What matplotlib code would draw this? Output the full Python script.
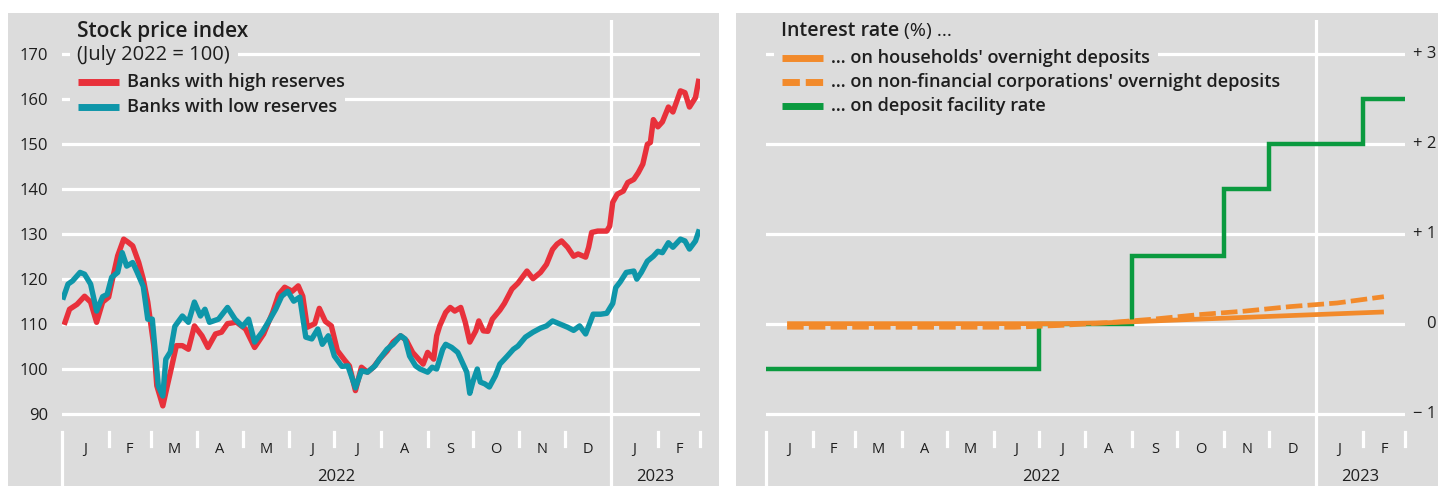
import numpy as np
import matplotlib
matplotlib.use("Agg")
import matplotlib.pyplot as plt
import matplotlib.dates as mdates
import matplotlib.transforms as mtransforms
from matplotlib.patches import Rectangle
from matplotlib.lines import Line2D

plt.rcParams['font.family'] = ['Open Sans', 'DejaVu Sans']

# ---- data: stock price index (July 2022 = 100) ----
high_dates = [
    "2022-01-03", "2022-01-06", "2022-01-11", "2022-01-16", "2022-01-20", "2022-01-24",
    "2022-01-28", "2022-02-01", "2022-02-04", "2022-02-07", "2022-02-11", "2022-02-14",
    "2022-02-17", "2022-02-21", "2022-02-24", "2022-02-27", "2022-03-03", "2022-03-05",
    "2022-03-09", "2022-03-12", "2022-03-15", "2022-03-18", "2022-03-22", "2022-03-26",
    "2022-03-30", "2022-04-04", "2022-04-08", "2022-04-13", "2022-04-17", "2022-04-21",
    "2022-04-27", "2022-05-03", "2022-05-09", "2022-05-15", "2022-05-21", "2022-05-25",
    "2022-05-29", "2022-06-03", "2022-06-07", "2022-06-10", "2022-06-13", "2022-06-18",
    "2022-06-21", "2022-06-25", "2022-06-29", "2022-07-03", "2022-07-08", "2022-07-11",
    "2022-07-15", "2022-07-19", "2022-07-23", "2022-07-27", "2022-07-31", "2022-08-05",
    "2022-08-09", "2022-08-14", "2022-08-18", "2022-08-22", "2022-08-26", "2022-08-29",
    "2022-09-01", "2022-09-05", "2022-09-07", "2022-09-09", "2022-09-13", "2022-09-16",
    "2022-09-19", "2022-09-23", "2022-09-26", "2022-09-29", "2022-10-03", "2022-10-05",
    "2022-10-08", "2022-10-11", "2022-10-14", "2022-10-19", "2022-10-22", "2022-10-27",
    "2022-10-31", "2022-11-06", "2022-11-10", "2022-11-15", "2022-11-19", "2022-11-23",
    "2022-11-26", "2022-11-29", "2022-12-03", "2022-12-07", "2022-12-10", "2022-12-15",
    "2022-12-17", "2022-12-19", "2022-12-23", "2022-12-29", "2022-12-31", "2023-01-02",
    "2023-01-05", "2023-01-09", "2023-01-12", "2023-01-16", "2023-01-19", "2023-01-22",
    "2023-01-25", "2023-01-27", "2023-01-29", "2023-02-01", "2023-02-04", "2023-02-08",
    "2023-02-11", "2023-02-16", "2023-02-19", "2023-02-22", "2023-02-26", "2023-02-28",
]
high_vals = [
    110.3, 113.2, 114.3, 116.1, 114.8, 110.3,
    114.8, 115.9, 120.6, 125.1, 128.8, 128.1,
    127.3, 123.6, 119.9, 114.8, 105.1, 96.2,
    91.7, 96.2, 100.6, 105.1, 105.1, 104.3,
    109.5, 107.3, 104.7, 107.7, 108.1, 110.0,
    110.3, 108.8, 104.7, 107.7, 112.5, 116.5,
    118.1, 117.2, 118.4, 116.1, 109.2, 110.0,
    113.4, 110.5, 109.5, 104.0, 101.8, 100.6,
    95.1, 100.3, 99.2, 100.3, 102.1, 103.9,
    105.9, 107.3, 106.2, 103.6, 102.1, 101.0,
    103.6, 102.1, 107.3, 109.5, 112.5, 113.6,
    112.8, 113.6, 110.3, 105.9, 108.4, 110.6,
    108.4, 108.3, 111.0, 113.0, 114.5, 117.7,
    119.0, 121.7, 120.0, 121.4, 123.2, 126.5,
    127.7, 128.4, 127.0, 125.0, 125.5, 124.8,
    127.0, 130.3, 130.6, 130.6, 131.7, 137.0,
    138.8, 139.5, 141.4, 142.1, 143.6, 145.5,
    149.9, 150.3, 155.4, 153.8, 154.9, 158.2,
    157.1, 161.8, 161.4, 158.2, 160.3, 163.9,
]

low_dates = [
    "2022-01-02", "2022-01-05", "2022-01-08", "2022-01-13", "2022-01-16", "2022-01-20",
    "2022-01-24", "2022-01-28", "2022-01-31", "2022-02-03", "2022-02-07", "2022-02-10",
    "2022-02-13", "2022-02-17", "2022-02-20", "2022-02-24", "2022-02-27", "2022-03-02",
    "2022-03-04", "2022-03-06", "2022-03-09", "2022-03-11", "2022-03-14", "2022-03-17",
    "2022-03-22", "2022-03-26", "2022-03-30", "2022-04-03", "2022-04-06", "2022-04-09",
    "2022-04-15", "2022-04-21", "2022-04-26", "2022-05-01", "2022-05-05", "2022-05-09",
    "2022-05-14", "2022-05-18", "2022-05-23", "2022-05-27", "2022-05-31", "2022-06-04",
    "2022-06-08", "2022-06-12", "2022-06-16", "2022-06-20", "2022-06-23", "2022-06-27",
    "2022-07-01", "2022-07-06", "2022-07-10", "2022-07-15", "2022-07-19", "2022-07-23",
    "2022-07-28", "2022-07-31", "2022-08-05", "2022-08-09", "2022-08-14", "2022-08-17",
    "2022-08-20", "2022-08-24", "2022-08-27", "2022-09-01", "2022-09-04", "2022-09-07",
    "2022-09-11", "2022-09-13", "2022-09-17", "2022-09-21", "2022-09-24", "2022-09-27",
    "2022-09-29", "2022-10-01", "2022-10-04", "2022-10-06", "2022-10-09", "2022-10-12",
    "2022-10-16", "2022-10-19", "2022-10-24", "2022-10-28", "2022-10-31", "2022-11-05",
    "2022-11-10", "2022-11-15", "2022-11-19", "2022-11-23", "2022-11-28", "2022-12-03",
    "2022-12-07", "2022-12-11", "2022-12-15", "2022-12-18", "2022-12-20", "2022-12-25",
    "2022-12-29", "2023-01-02", "2023-01-04", "2023-01-07", "2023-01-11", "2023-01-16",
    "2023-01-18", "2023-01-21", "2023-01-25", "2023-01-29", "2023-02-01", "2023-02-04",
    "2023-02-08", "2023-02-11", "2023-02-16", "2023-02-19", "2023-02-22", "2023-02-26",
    "2023-02-28",
]
low_vals = [
    115.9, 118.8, 119.5, 121.4, 121.0, 118.8,
    112.8, 116.0, 116.5, 120.3, 121.4, 125.8,
    122.8, 123.6, 121.4, 118.3, 111.0, 111.0,
    103.6, 96.1, 93.9, 102.1, 103.7, 109.4,
    111.7, 110.3, 114.8, 111.7, 113.2, 110.3,
    111.0, 113.6, 111.0, 109.4, 111.0, 105.9,
    108.1, 110.3, 113.2, 116.1, 117.2, 115.0,
    115.9, 107.0, 106.6, 108.8, 105.4, 107.3,
    102.8, 100.5, 100.6, 95.7, 99.5, 99.2,
    100.6, 102.1, 104.3, 105.4, 107.3, 106.6,
    102.8, 100.6, 99.9, 99.2, 100.3, 99.9,
    104.3, 105.4, 104.7, 103.6, 101.4, 99.2,
    94.5, 97.0, 99.9, 97.0, 96.6, 95.9,
    98.4, 101.0, 102.8, 104.3, 105.0, 107.0,
    108.1, 109.0, 109.5, 110.6, 109.9, 109.2,
    108.5, 109.5, 107.7, 110.3, 112.1, 112.1,
    112.3, 114.5, 118.0, 119.3, 121.4, 121.7,
    119.9, 121.4, 123.9, 125.0, 126.1, 125.8,
    128.0, 127.0, 128.8, 128.4, 126.6, 128.4,
    130.4,
]

# ---- data: interest rates (%) ----
rate_months = ["2022-01", "2022-02", "2022-03", "2022-04", "2022-05", "2022-06", "2022-07",
               "2022-08", "2022-09", "2022-10", "2022-11", "2022-12", "2023-01", "2023-02"]
households_rate = [0.00, 0.00, 0.00, 0.00, 0.00, 0.00, 0.00, 0.01, 0.03, 0.05, 0.07, 0.09, 0.11, 0.13]
nfc_rate = [-0.04, -0.04, -0.04, -0.04, -0.04, -0.04, -0.02, 0.01, 0.05, 0.10, 0.14, 0.19, 0.23, 0.30]
dfr_rate = [-0.50, -0.50, -0.50, -0.50, -0.50, -0.50, 0.00, 0.00, 0.75, 0.75, 1.50, 2.00, 2.00, 2.50]

month_letters = ["J", "F", "M", "A", "M", "J", "J", "A", "S", "O", "N", "D", "J", "F"]
years = ["2022", "2023"]

GRAY = "#DCDCDC"
RED = "#E8313B"
TEAL = "#0E96A9"
ORANGE = "#F28A2B"
GREEN = "#0A9A3F"
TXT = "#1E1E1E"

W, H = 1438, 486
fig = plt.figure(figsize=(W / 100, H / 100), dpi=100)


def fx(px):
    return px / W


def fy(py):
    return 1 - py / H


def ay(py):
    # pixel row -> axes fraction (axes span rows 20..486)
    return (486 - py) / 466


# grey panels
for x0, x1 in [(8, 719), (736, 1438)]:
    fig.add_artist(Rectangle((fx(x0), 0), fx(x1) - fx(x0), fy(13), transform=fig.transFigure,
                             facecolor=GRAY, edgecolor="none", zorder=-10))

ax1 = fig.add_axes([fx(62), 0, fx(700) - fx(62), 466 / H])
ax2 = fig.add_axes([fx(766), 0, fx(1405) - fx(766), 466 / H])

x_start = mdates.date2num(np.datetime64("2022-01-01"))
x_end = mdates.date2num(np.datetime64("2023-03-01"))
x_year = mdates.date2num(np.datetime64("2023-01-01"))

for ax in (ax1, ax2):
    ax.set_facecolor("none")
    for s in ax.spines.values():
        s.set_visible(False)
    ax.set_xlim(x_start, x_end)
    ax.set_xticks([])
    ax.grid(axis="y", color="white", lw=2.3)
    ax.set_axisbelow(True)
    ax.tick_params(axis="y", length=0)
    ax.axvline(x_year, color="white", lw=2.3, zorder=1)

    blend = mtransforms.blended_transform_factory(ax.transData, ax.transAxes)
    starts = np.arange(np.datetime64("2022-01"), np.datetime64("2023-04"), dtype="datetime64[M]")
    starts = mdates.date2num(starts.astype("datetime64[D]"))
    for i, s in enumerate(starts):
        if i == 0:
            ax.plot([s, s], [0, ay(432)], transform=blend, color="white", lw=2.3, clip_on=False)
        elif s != x_year:
            ax.plot([s, s], [ay(446), ay(432)], transform=blend, color="white", lw=2.3, clip_on=False)
    mids = (starts[:-1] + starts[1:]) / 2
    for m, lab in zip(mids, month_letters):
        ax.text(m, ay(449), lab, transform=blend, ha="center", va="center", fontsize=10.5, color=TXT)
    ax.text((x_start + x_year) / 2, ay(477), years[0], transform=blend, ha="center", va="center",
            fontsize=12, color=TXT)
    ax.text((x_year + x_end) / 2, ay(477), years[1], transform=blend, ha="center", va="center",
            fontsize=12, color=TXT)

# ---- left panel ----
ax1.set_ylim(73.87, 177.57)
ax1.set_yticks(range(90, 171, 10))
ax1.tick_params(axis="y", labelsize=12, labelcolor=TXT, pad=10)
hd = mdates.date2num(np.array(high_dates, dtype="datetime64[D]"))
ld = mdates.date2num(np.array(low_dates, dtype="datetime64[D]"))
ax1.plot(hd, high_vals, color=RED, lw=3.9, solid_joinstyle="round", zorder=2)
ax1.plot(ld, low_vals, color=TEAL, lw=3.9, solid_joinstyle="round", zorder=3)

# ---- right panel ----
ax2.set_ylim(-1.806, 3.378)
ax2.set_yticks([-1, 0, 1, 2, 3])
ax2.tick_params(axis="y", labelleft=False)
rblend = mtransforms.blended_transform_factory(fig.transFigure, ax2.transData)
for v, lab in zip([3, 2, 1, 0, -1], ["+ 3", "+ 2", "+ 1", "0", "\u2212 1"]):
    ax2.text(fx(1436), v, lab, transform=rblend, ha="right", va="center", fontsize=12,
             color=TXT, clip_on=False)

month_starts = np.array(rate_months, dtype="datetime64[M]")
edges = np.append(month_starts, month_starts[-1] + 1).astype("datetime64[D]")
mid_month = month_starts.astype("datetime64[D]") + 14
ax2.stairs(dfr_rate, mdates.date2num(edges), baseline=None, color=GREEN, lw=3.2, zorder=2)
ax2.plot(mdates.date2num(mid_month), households_rate, color=ORANGE, lw=3.4,
         solid_capstyle="butt", zorder=3)
ax2.plot(mdates.date2num(mid_month), nfc_rate, color=ORANGE, lw=3.4, dashes=(3.5, 1.1),
         dash_capstyle="butt", zorder=3)

# ---- titles and legends ----
renderer = fig.canvas.get_renderer()
tkw = dict(va="center", ha="left", color=TXT, zorder=5)


def cover(x0, x1, y0, y1):
    # grey patch hiding gridlines behind legend/title text
    fig.add_artist(Rectangle((fx(x0), fy(y1)), fx(x1) - fx(x0), (y1 - y0) / H,
                             transform=fig.transFigure, facecolor=GRAY, edgecolor="none",
                             zorder=4))


fig.text(fx(77), fy(31), "Stock price index", fontsize=15, fontweight="semibold", **tkw)
t_sub = fig.text(fx(77), fy(55), "(July 2022 = 100)", fontsize=14.5, fontweight="normal", **tkw)
cover(70, t_sub.get_window_extent(renderer=renderer).x1 + 8, 47, 63)

t_int = fig.text(fx(781), fy(31), "Interest rate", fontsize=14, fontweight="semibold", **tkw)
x_int = t_int.get_window_extent(renderer=renderer).x1
fig.text(fx(x_int + 5), fy(31), "(%) ...", fontsize=14, fontweight="normal", **tkw)


def legend_row(x0, y, color, label, dashed=False):
    line = Line2D([fx(x0), fx(x0 + 41)], [fy(y), fy(y)], transform=fig.transFigure,
                  color=color, lw=5.0, solid_capstyle="butt", dash_capstyle="butt", zorder=6)
    if dashed:
        line.set_dashes((2.5, 0.85))
    fig.add_artist(line)
    t = fig.text(fx(x0 + 49), fy(y), label, fontsize=13.1, fontweight="semibold", **tkw)
    x1 = t.get_window_extent(renderer=renderer).x1 + 8
    cover(x0 - 8, x1, y - 12, y + 12)


legend_row(78, 82, RED, "Banks with high reserves")
legend_row(78, 107, TEAL, "Banks with low reserves")
legend_row(782, 58, ORANGE, "... on households' overnight deposits")
legend_row(782, 82, ORANGE, "... on non-financial corporations' overnight deposits", dashed=True)
legend_row(782, 106, GREEN, "... on deposit facility rate")

fig.savefig("out.png", dpi=100)
